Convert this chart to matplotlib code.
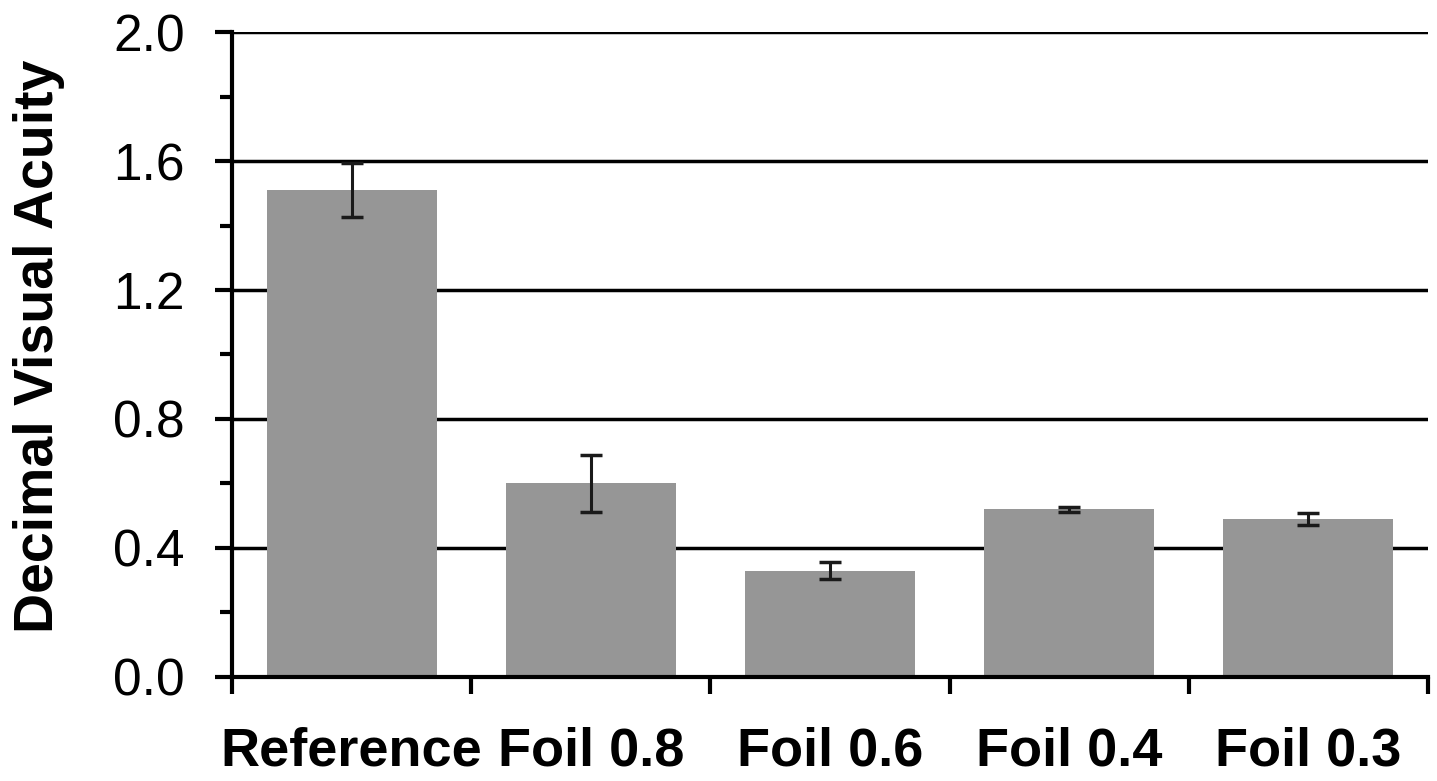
import numpy as np
import matplotlib.pyplot as plt
from matplotlib.ticker import MultipleLocator, FixedLocator

# Données
conditions = ["Reference", "Foil 0.8", "Foil 0.6", "Foil 0.4", "Foil 0.3"]
acuite = [1.51, 0.60, 0.33, 0.52, 0.49]
erreur = [0.085, 0.087, 0.026, 0.008, 0.02]

plt.rcParams['font.family'] = ['Liberation Sans', 'DejaVu Sans']

fig = plt.figure(figsize=(14.37, 7.81), dpi=100)
ax = fig.add_axes([0.1615, 0.1332, 0.8322, 0.8258])

x = np.arange(len(conditions))
ax.bar(x, acuite, width=0.71, color='#969696', zorder=2)
ax.errorbar(x, acuite, yerr=erreur, fmt='none', ecolor='#1a1a1a',
            elinewidth=2.2, capsize=8, capthick=2.5, zorder=3)

# Grille horizontale noire derrière les barres
for yv in [0.4, 0.8, 1.2, 1.6, 2.0]:
    ax.axhline(yv, color='black', lw=2.5, zorder=1)

ax.set_xlim(-0.5, len(conditions) - 0.5)
ax.set_ylim(0, 2.0)

ax.yaxis.set_major_locator(MultipleLocator(0.4))
ax.yaxis.set_minor_locator(MultipleLocator(0.2))
ax.set_yticklabels([f"{v:.1f}" for v in ax.get_yticks()])
ax.tick_params(axis='y', which='major', direction='out', length=12, width=3,
               labelsize=37, pad=22)
ax.tick_params(axis='y', which='minor', direction='out', length=9, width=3)

ax.set_xticks(x)
ax.set_xticklabels(conditions, fontweight='bold')
ax.xaxis.set_minor_locator(FixedLocator(np.arange(-0.5, len(conditions), 1.0)))
ax.tick_params(axis='x', which='major', length=0, labelsize=39, pad=36)
ax.tick_params(axis='x', which='minor', direction='out', length=12, width=3)

ax.set_ylabel("Decimal Visual Acuity", fontsize=40, fontweight='bold')
ax.yaxis.set_label_coords(-0.14, 0.512)

for s in ['top', 'right']:
    ax.spines[s].set_visible(False)
ax.spines['left'].set_linewidth(3)
ax.spines['bottom'].set_linewidth(3)

plt.savefig("out.png", dpi=100)
